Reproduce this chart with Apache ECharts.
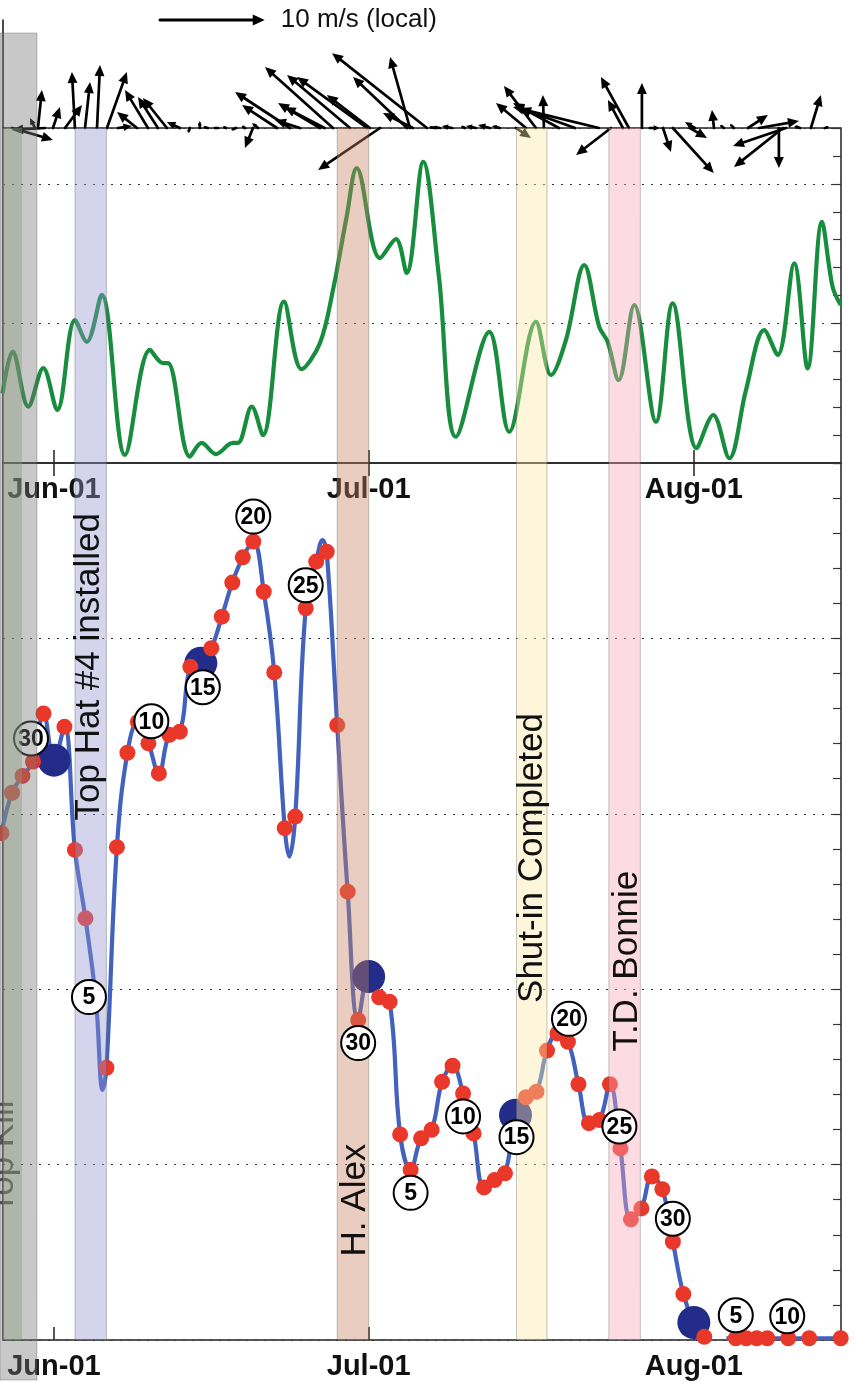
<!DOCTYPE html>
<html>
<head>
<meta charset="utf-8">
<title>Wind, upper record and daily record, late May to mid August</title>
<script src="https://cdn.jsdelivr.net/npm/echarts@6/dist/echarts.min.js"></script>
<style>
  html, body { margin: 0; padding: 0; background: #fff; }
  #chart { width: 856px; height: 1390px; }
</style>
</head>
<body>
<div id="chart"></div>
<script>
// ---------------------------------------------------------------
// Time is counted in days from Jun-01 (Jun-01 = 0, Jul-01 = 30, Aug-01 = 61)
// ---------------------------------------------------------------
const xTickDays = [0, 30, 61];
const xTickLabels = ['Jun-01', 'Jul-01', 'Aug-01'];

// Wind vectors: time of each vector and its east / north components (m/s)
const arrowDays = [-4.0, -1.81, -1.53, -0.86, -0.1, 1.05, 2.0, 2.96, 4.1, 5.05,
  6.1, 7.91, 8.96, 9.91, 10.77, 12.0, 12.96, 13.9, 14.68, 15.63,
  16.4, 17.35, 18.2, 18.97, 19.45, 21.26, 22.5, 23.45, 25.36, 25.8,
  26.6, 28.22, 29.84, 30.12, 31.08, 33.65, 33.94, 34.22, 35.56, 36.3,
  36.8, 37.94, 39.18, 40.23, 41.56, 42.5, 44.04, 45.0, 45.95, 46.71,
  48.14, 49.67, 51.95, 53.1, 54.24, 54.81, 56.05, 56.8, 58.06, 59.0,
  60.63, 61.1, 62.92, 63.87, 64.82, 66.16, 67.21, 69.11, 69.5, 69.78,
  71.12, 72.16, 73.5];
const arrowU = [3.9, -0.48, 0.38, -3.14, 0.67, 1.62, -0.29, 0.48, 0.29, 1.9,
  1.33, -1.9, -2.19, -1.9, -2.29, -1.24, -0.19, 0, -0.48, -0.48,
  -0.29, -0.48, -0.29, -0.76, -0.57, -3.33, -5.24, -2.38, -4.0, -3.81,
  -6.48, -6.0, -6.67, -4.1, -5.9, -5.14, -1.9, -2.86, -9.05, -0.57,
  -0.76, -0.95, -0.38, -0.95, -1.14, -0.76, 1.43, -2.86, -3.05, -0.1,
  -4.38, -5.24, -8.19, -3.33, -1.43, -2.67, 0, 0.95, 0.76, 3.9,
  1.62, -0.95, -0.19, -0.38, -0.38, 1.9, 3.81, 0, -4.67, -5.05,
  -0.57, 0.95, 0.38];
const arrowV = [-1.14, 0.95, 3.62, -0.19, 2.0, 2.19, 5.33, 4.38, 6.0, 5.33,
  0.19, 1.52, 3.62, 2.95, 2.86, 0.57, -0.48, 0.67, 0.1, 0,
  0.1, -0.19, 0.19, -1.9, 0.48, 2.19, 3.43, 0.76, 2.38, 2.0,
  5.81, 5.05, 4.86, 3.14, -4.0, 4.86, 6.76, 1.43, 7.14, 0.1,
  0.1, 0.19, 0.19, 0.19, 0.29, 0.19, -0.95, 2.38, 4.0, 3.14,
  2.38, 1.9, 2.0, -2.57, 2.67, 4.86, 4.29, 0, -2.29, -4.29,
  -0.95, 0.57, 1.71, 0.29, 0.38, 1.24, 0.67, -3.81, -3.71, -1.71,
  0.19, 3.14, 0.1];
const arrowKeySpeed = 10; // reference vector, m/s

// Upper record: turning points of the curve
const upperDays = [-4.9, -3.94, -2.45, -1.02, 0.31, 2.0, 3.12, 4.55, 6.77, 9.15,
  10.39, 10.87, 12.96, 14.08, 15.44, 17.06, 17.54, 18.85, 19.92, 21.93,
  23.61, 25.36, 26.6, 27.9, 28.86, 31.08, 32.6, 33.62, 35.2, 36.7,
  38.32, 41.5, 43.4, 45.95, 47.38, 48.81, 50.55, 51.98, 52.78, 53.83,
  55.32, 57.39, 58.98, 61.27, 62.85, 64.38, 65.97, 67.71, 68.99, 70.57,
  71.85, 73.21, 74.23, 75.0];
const upperValues = [2.5, 3.99, 2.02, 3.4, 1.9, 5.12, 4.34, 6.02, 0.29, 4.05,
  3.58, 3.58, 0.23, 0.72, 0.32, 0.72, 0.72, 2.02, 1.0, 5.78,
  3.36, 4.3, 6.2, 8.82, 10.56, 7.34, 8.02, 6.81, 10.79, 6.67,
  0.94, 4.7, 1.12, 5.06, 3.15, 4.41, 7.09, 4.88, 4.34, 2.97,
  5.66, 1.48, 5.72, 0.53, 1.72, 0.17, 2.61, 4.76, 3.87, 7.15,
  3.39, 8.64, 6.31, 5.66];

// Lower record: one value per day from May-27 (day -5) to Aug-15 (day 75); null = no sample
const firstDay = -5;
const dailyValues = [
  14.45, 15.6, 16.08, 16.49, 17.86,                       // May 27-31
  16.53, 17.48, 13.97, 12.02, 9.69, 7.76, 14.05, 16.74, 17.62, 17.01,   // Jun 1-10
  16.15, 17.25, 17.34, 19.19, 19.29, 19.72, 20.62, 21.59, 22.31, 22.76, // Jun 11-20
  21.33, 19.03, 14.59, 14.92, 20.86, 22.19, 22.47, 17.53, 12.78, 9.12,  // Jun 21-30
  10.36, 9.77, 9.64, 5.86, 4.85, 5.75, 5.99, 7.36, 7.82, 7.03,          // Jul 1-10
  5.89, 4.35, 4.56, 4.75, 6.41, 6.92, 7.08, 8.25, 8.74, 8.5,            // Jul 11-20
  7.29, 6.18, 6.27, 7.29, 5.46, 3.44, 3.75, 4.66, 4.3, 2.8, 1.31,       // Jul 21-31
  0.5, 0.09, null, null, 0.05, 0.05, 0.05, 0.05, null, 0.05,            // Aug 1-10
  null, 0.05, null, null, 0.05                                          // Aug 11-15
];

// Turning points of the fitted curve that fall between daily samples
const curveExtraDays = [4.64, 22.43, 25.6, 64.1];
const curveExtraValues = [7.13, 13.78, 22.8, 0.05];
const curveBreakDays = [63];

// Days drawn with the large marker (1st and 15th of the month)
const markerDays = [0, 14, 30, 44, 61];

// Days annotated with their day of month
const labelDays = [-2, 4, 9, 14, 19, 24, 29, 34, 39, 44, 49, 54, 59, 65, 70];

// Event periods
const bandNames = ['', 'Top Kill', 'Top Hat #4 installed', 'H. Alex', 'Shut-in Completed', 'T.D. Bonnie'];
const bandStart = [-4.86, -5.15, 2.0, 27.0, 44.1, 52.9];
const bandEnd   = [-3.05, -1.62, 5.0, 30.0, 47.0, 55.9];

// ---------------------------------------------------------------
// Styling / layout
// ---------------------------------------------------------------
const FONT = '"Liberation Sans", Arial, Helvetica, sans-serif';
const X_MIN = -4.86, X_MAX = 75.03;
const bandFill = [
  'rgba(158,175,133,0.4)', 'rgba(118,118,118,0.4)', 'rgba(148,148,208,0.4)',
  'rgba(197,130,98,0.4)', 'rgba(250,232,162,0.4)', 'rgba(248,168,182,0.4)'
];
// the grey shading of the first two periods lies over the badges; the others lie beneath them
const bandZ = [120, 120, 100, 100, 100, 100];
// extra reach of each band above the upper panel and below the lower panel (px)
const bandReach = [[0, 0], [95, 40], [0, 0], [0, 0], [0, 0], [0, 0]];
// centre of each band caption, in lower-panel coordinates
const bandCaptionAt = [null, [-4.86, 5.22], [3.34, 19.19], [28.69, 3.99], [45.57, 13.74], [54.62, 10.8]];
// offset of each day-of-month badge from its sample (px)
const labelOffsets = [[-2, -23], [-7, -3], [3, -22], [2, 24], [0, -25], [0, -23], [0, 23], [0, 23],
  [0, 23], [1, 22], [1, -23], [-1, -22], [0, -23], [0, -23], [-1, -22]];

// ---------------------------------------------------------------
// Derived series data
// ---------------------------------------------------------------
const valueAt = d => dailyValues[d - firstDay];
const dailyPoints = dailyValues.map((v, i) => [i + firstDay, v]).filter(p => p[1] !== null);
const redPoints = dailyPoints.filter(p => markerDays.indexOf(p[0]) < 0);
const markerPoints = markerDays.map(d => [d, valueAt(d)]);
const curvePoints = dailyPoints
  .concat(curveExtraDays.map((d, i) => [d, curveExtraValues[i]]))
  .concat(curveBreakDays.map(d => [d, null]))
  .sort((a, b) => a[0] - b[0]);
const upperPoints = upperDays.map((d, i) => [d, upperValues[i]]);
const arrowData = arrowDays.map((d, i) => [d, 0, arrowU[i], arrowV[i]]);
const dayOfMonth = d => new Date(2010, 5, 1 + d).getDate();
const labelData = labelDays.map(d => [d, valueAt(d), dayOfMonth(d)]);

// ---------------------------------------------------------------
// Renderers
// ---------------------------------------------------------------
function arrowShapes(bx, by, dx, dy, lw, headMax) {
  const len = Math.hypot(dx, dy);
  if (len < 0.8) return [];
  const ux = dx / len, uy = dy / len;
  const h = Math.min(headMax, len * 0.6), w = h * 0.45;
  const tx = bx + dx, ty = by + dy;
  const kx = tx - ux * h, ky = ty - uy * h;
  return [
    { type: 'line', shape: { x1: bx, y1: by, x2: kx + ux * h * 0.3, y2: ky + uy * h * 0.3 },
      style: { stroke: '#000', lineWidth: lw, lineCap: 'round' } },
    { type: 'polygon', shape: { points: [[tx, ty], [kx - uy * w, ky + ux * w], [kx + uy * w, ky - ux * w]] },
      style: { fill: '#000' } }
  ];
}

function renderArrow(params, api) {
  const base = api.coord([api.value(0), api.value(1)]);
  const unit = api.size([0, 1])[1];            // px per m/s
  return { type: 'group', children: arrowShapes(base[0], base[1], api.value(2) * unit, -api.value(3) * unit, 2.7, 11) };
}

function renderArrowKey(params, api) {
  const base = api.coord([api.value(0), api.value(1)]);
  const unit = api.size([0, 1])[1];
  const len = api.value(2) * unit;
  const kids = arrowShapes(base[0], base[1], len, 0, 2.8, 12);
  kids.push({ type: 'text', x: base[0] + len + 16, y: base[1],
    style: { text: arrowKeySpeed + ' m/s (local)', font: '26px ' + FONT, fill: '#111',
      align: 'left', verticalAlign: 'middle', textAlign: 'left', textVerticalAlign: 'middle' } });
  return { type: 'group', children: kids };
}

function renderBadge(params, api) {
  const c = api.coord([api.value(0), api.value(1)]);
  const off = labelOffsets[params.dataIndex];
  const cx = c[0] + off[0], cy = c[1] + off[1];
  return { type: 'group', children: [
    { type: 'circle', shape: { cx: cx, cy: cy, r: 17 }, style: { fill: '#fff', stroke: '#000', lineWidth: 2 } },
    { type: 'text', x: cx, y: cy + 1,
      style: { text: String(api.value(2)), font: 'bold 23px ' + FONT, fill: '#000',
        align: 'center', verticalAlign: 'middle', textAlign: 'center', textVerticalAlign: 'middle' } }
  ] };
}

const tickLabel = v => {
  const i = xTickDays.findIndex(t => Math.abs(t - v) < 1e-6);
  return i >= 0 ? xTickLabels[i] : '';
};

const dotted = { type: [2, 7], color: '#333', width: 1.2 };
const noZero = { show: false, onZero: false };
const xTicks = { inside: true, length: 13, customValues: xTickDays, lineStyle: { color: '#222', width: 1.5 } };
const xLabels = { customValues: xTickDays, formatter: tickLabel, margin: 12,
  fontFamily: FONT, fontSize: 29, fontWeight: 'bold', color: '#111' };

const option = {
  animation: false,
  backgroundColor: '#fff',
  grid: [
    { left: 3, right: 15, top: 20, height: 108, show: false },
    { left: 3, right: 15, top: 128, height: 335, show: true, borderColor: '#222', borderWidth: 1.5 },
    { left: 3, right: 15, top: 463, height: 877, show: true, borderColor: '#222', borderWidth: 1.5 }
  ],
  xAxis: [
    { gridIndex: 0, type: 'value', min: X_MIN, max: X_MAX, show: false, axisLine: noZero },
    { gridIndex: 1, type: 'value', min: X_MIN, max: X_MAX, position: 'bottom',
      axisLine: noZero, splitLine: { show: false }, axisTick: xTicks, axisLabel: xLabels },
    { gridIndex: 2, type: 'value', min: X_MIN, max: X_MAX, position: 'bottom',
      axisLine: noZero, splitLine: { show: false }, axisTick: xTicks, axisLabel: xLabels },
    { gridIndex: 2, type: 'value', min: X_MIN, max: X_MAX, position: 'top',
      axisLine: noZero, splitLine: { show: false }, axisLabel: { show: false }, axisTick: xTicks }
  ],
  yAxis: [
    { gridIndex: 0, type: 'value', min: 0, max: 10.3, position: 'left',
      axisLine: { show: true, onZero: false, lineStyle: { color: '#111', width: 1.5 } },
      axisTick: { show: false }, axisLabel: { show: false }, splitLine: { show: false } },
    { gridIndex: 1, type: 'value', min: 0, max: 12, interval: 1, position: 'right',
      axisLine: noZero, axisLabel: { show: false }, splitLine: { show: false },
      axisTick: { inside: true, length: 8, lineStyle: { color: '#333', width: 1.2 } } },
    { gridIndex: 1, type: 'value', min: 0, max: 12, interval: 5, position: 'left',
      axisLine: noZero, axisLabel: { show: false }, axisTick: { show: false },
      splitLine: { show: true, lineStyle: dotted } },
    { gridIndex: 2, type: 'value', min: 0, max: 25, interval: 1, position: 'right',
      axisLine: noZero, axisLabel: { show: false }, splitLine: { show: false },
      axisTick: { inside: true, length: 8, lineStyle: { color: '#333', width: 1.2 } } },
    { gridIndex: 2, type: 'value', min: 0, max: 25, interval: 5, position: 'left',
      axisLine: noZero, axisLabel: { show: false }, axisTick: { show: false },
      splitLine: { show: true, lineStyle: dotted } }
  ],
  series: [
    { type: 'custom', name: 'wind', xAxisIndex: 0, yAxisIndex: 0, renderItem: renderArrow,
      data: arrowData, encode: { x: 0, y: 1 }, clip: false, silent: true, z: 5 },
    { type: 'custom', name: 'wind key', xAxisIndex: 0, yAxisIndex: 0, renderItem: renderArrowKey,
      data: [[10.1, 10.3, arrowKeySpeed]], encode: { x: 0, y: 1 }, clip: false, silent: true, z: 5 },
    { type: 'line', name: 'upper', xAxisIndex: 1, yAxisIndex: 1, data: upperPoints,
      smooth: 0.35, showSymbol: false, clip: true,
      lineStyle: { color: '#178d3d', width: 4.2 }, z: 3 },
    { type: 'line', name: 'curve', xAxisIndex: 2, yAxisIndex: 3, data: curvePoints,
      smooth: 0.4, showSymbol: false, clip: true, connectNulls: false,
      lineStyle: { color: '#4262bd', width: 4.2 }, z: 3 },
    { type: 'scatter', name: 'markers', xAxisIndex: 2, yAxisIndex: 3, data: markerPoints,
      symbolSize: 33, itemStyle: { color: '#232c88', opacity: 1 }, z: 4 },
    { type: 'scatter', name: 'daily', xAxisIndex: 2, yAxisIndex: 3, data: redPoints,
      symbolSize: 16, itemStyle: { color: '#e9372a', opacity: 1 }, clip: false, z: 5 },
    { type: 'custom', name: 'day badges', xAxisIndex: 2, yAxisIndex: 3, renderItem: renderBadge,
      data: labelData, encode: { x: 0, y: 1 }, clip: false, silent: true, z: 110 }
  ]
};

const chart = echarts.init(document.getElementById('chart'), null, { renderer: 'canvas' });
chart.setOption(option);

// Event bands are laid over the records as translucent shading, with captions on top
const lowerFinder = { xAxisIndex: 2, yAxisIndex: 3 };
const upperFinder = { xAxisIndex: 1, yAxisIndex: 1 };
const panelTop = chart.convertToPixel(upperFinder, [0, 12])[1];
const panelBottom = chart.convertToPixel(lowerFinder, [0, 0])[1];
const overlay = [];
bandStart.forEach((s, i) => {
  const x0 = chart.convertToPixel(lowerFinder, [s, 0])[0];
  const x1 = chart.convertToPixel(lowerFinder, [bandEnd[i], 0])[0];
  const reach = bandReach[i];
  overlay.push({
    type: 'rect', silent: true, z: bandZ[i],
    shape: { x: x0, y: panelTop - reach[0], width: x1 - x0, height: panelBottom - panelTop + reach[0] + reach[1] },
    style: { fill: bandFill[i], stroke: i === 0 ? null : 'rgba(90,90,90,0.35)', lineWidth: 1 }
  });
  if (bandNames[i] && bandCaptionAt[i]) {
    const p = chart.convertToPixel(lowerFinder, bandCaptionAt[i]);
    const under = i === 1;   // this caption sits beneath its own shading
    overlay.push({
      type: 'text', silent: true, z: under ? 115 : 130, x: p[0], y: p[1], rotation: Math.PI / 2,
      style: { text: bandNames[i], font: '35px ' + FONT, fill: under ? '#3a3a3a' : '#111',
        align: 'center', verticalAlign: 'middle', textAlign: 'center', textVerticalAlign: 'middle' }
    });
  }
});
chart.setOption({ graphic: { elements: overlay } });
</script>
</body>
</html>
